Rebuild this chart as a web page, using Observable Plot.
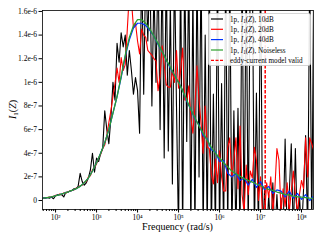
<!DOCTYPE html>
<html><head><meta charset="utf-8">
<script src="https://cdn.jsdelivr.net/npm/d3@7"></script>
<script src="https://cdn.jsdelivr.net/npm/@observablehq/plot@0.6"></script>
<style>body{margin:0;background:#fff} #chart{width:320px;height:240px}</style>
</head><body><div id="chart"></div>
<script>
// log10 of frequency (rad/s) for the noisy series
const noisyLog = [
 1.70,1.75,1.80,1.85,1.90,1.95,2.00,2.05,2.10,2.15,
 2.20,2.25,2.30,2.35,2.40,2.45,2.50,2.55,2.60,2.65,
 2.70,2.75,2.80,2.85,2.90,2.95,3.00,3.05,3.10,3.15,
 3.20,3.25,3.30,3.35,3.40,3.45,3.50,3.55,3.60,3.65,
 3.70,3.75,3.80,3.85,3.90,3.95,4.00,4.05,4.10,4.15,
 4.20,4.25,4.30,4.35,4.40,4.45,4.50,4.55,4.60,4.65,
 4.70,4.75,4.80,4.85,4.90,4.95,5.00,5.05,5.10,5.15,
 5.20,5.25,5.30,5.35,5.40,5.45,5.50,5.55,5.60,5.65,
 5.70,5.75,5.80,5.85,5.90,5.95,6.00,6.05,6.10,6.15,
 6.20,6.25,6.30,6.35,6.40,6.45,6.50,6.55,6.60,6.65,
 6.70,6.75,6.80,6.85,6.90,6.95,7.00,7.05,7.10,7.15,
 7.20,7.25,7.30,7.35,7.40,7.45,7.50,7.55,7.60,7.65,
 7.70,7.75,7.80,7.85,7.90,7.95,8.00,8.05,8.10,8.15,
 8.20,8.25,8.30];
// values in units of 1e-7
const black10dB = [
 0.2,0.2,0.25,0.2,0.3,0.15,0.4,0.5,0.5,0.5,
 0.3,0.7,0.7,0.8,0.85,1.0,1.0,1.2,2.3,1.6,
 1.3,1.5,1.9,2.6,4.0,2.4,3.6,3.3,4.0,4.4,
 7.6,6.0,4.8,7.0,10.0,8.5,13.3,11.7,14.2,13.0,
 14.0,10.6,12.7,11.0,9.0,10.4,9.3,5.7,20,9.0,
 20,13.5,20,8.0,18,10.0,20,6.0,20,3.6,
 20,4.2,17,1.4,20,8.0,-3,20,-3,20,
 5.0,20,-3,18,-3,20,2.0,20,-3,14,
 -3,20,-3,9.0,-3,20,-3,9.9,-3,20,
 -3,20,-3,7.6,-3,7.8,-3,20,-3,20,
 -3,20,20,-3,9.1,-3,20,-3,1.0,-3,
 0.5,-3,1.5,-3,0.5,-3,0.2,-3,5.2,-3,
 0.5,4.8,-3,4.4,-3,0.5,-3,1.0,5.5,-3,
 20,-3,20];
const red20dB = [
 0.2,0.22,0.25,0.3,0.32,0.35,0.45,0.42,0.55,0.5,
 0.65,0.62,0.75,0.8,0.85,0.9,1.05,1.1,1.25,1.3,
 1.55,1.6,2.0,2.1,2.6,2.8,3.1,3.6,3.9,4.4,
 4.7,5.5,6.6,7.6,8.8,9.9,11.2,10.0,12.1,11.0,
 11.5,14.5,17.5,17.0,14.6,15.0,13.5,12.4,14.5,14.0,
 13.8,12.7,12.5,12.3,12.0,11.8,9.3,10.5,13.1,11.5,
 9.8,9.6,9.6,11.0,10.0,12.7,9.5,11.0,12.9,8.5,
 8.5,9.7,7.0,5.7,8.0,11.4,8.5,6.5,4.0,8.0,
 4.5,4.4,2.2,1.4,3.5,1.5,4.2,2.0,0.8,0.8,
 4.5,5.3,2.0,3.5,5.3,1.0,6.3,0.5,-1,3.0,
 0.5,2.5,1.9,4.5,3.4,0.0,2.0,-1,-1.2,1.5,
 0.25,2.0,-1,1.0,4.4,3.4,-1,1.0,-0.5,1.5,
 -1,0.8,2.5,0.5,-1,0.5,1.7,1.0,5.3,2.0,
 5.3,4.8,4.2];
// log10 of frequency for the smooth series
const smoothLog = [
 1.7,1.8,1.9,2.0,2.1,2.2,2.3,2.4,2.5,2.6,
 2.7,2.8,2.9,3.0,3.1,3.2,3.3,3.4,3.5,3.6,
 3.7,3.8,3.9,4.0,4.1,4.2,4.3,4.4,4.5,4.6,
 4.7,4.8,4.9,5.0,5.1,5.2,5.3,5.4,5.5,5.6,
 5.7,5.8,5.9,6.0,6.1,6.2,6.3,6.4,6.5,6.6,
 6.7,6.8,6.9,7.0,7.1,7.2,7.3,7.4,7.5,7.6,
 7.7,7.8,7.9,8.0,8.1,8.2,8.3];
const blue40dB = [
 0.2,0.25,0.3,0.4,0.5,0.6,0.72,0.85,1.0,1.2,
 1.5,1.9,2.5,3.2,4.0,4.9,6.0,7.4,8.8,10.4,
 12.2,13.6,14.6,15.0,15.0,14.8,14.4,13.9,13.2,12.6,
 11.9,11.2,10.6,10.0,9.3,8.4,7.7,6.9,6.4,5.5,
 5.2,4.3,4.1,3.3,3.4,2.3,2.0,2.3,1.7,1.9,
 1.3,1.8,1.1,1.6,0.9,1.2,0.6,0.9,0.8,0.3,
 0.8,0.2,0.6,0.1,0.5,0.0,0.4];
const greenNoiseless = [
 0.2,0.25,0.3,0.4,0.5,0.6,0.72,0.85,1.0,1.2,
 1.5,1.9,2.5,3.2,4.0,4.9,6.0,7.4,8.8,10.5,
 12.3,13.8,14.8,15.3,15.3,15.0,14.5,13.9,13.3,12.6,
 11.9,11.3,10.6,10.0,9.3,8.5,7.7,7.0,6.3,5.7,
 5.1,4.5,4.0,3.6,3.2,2.85,2.5,2.25,2.05,1.85,
 1.7,1.55,1.4,1.25,1.1,0.95,0.85,0.72,0.62,0.52,
 0.45,0.38,0.32,0.28,0.24,0.2,0.17];
const validFreq = 1.3e7;
const xDomain = [48, 1.96e8];
const yDomain = [-0.76, 16.08];
const xTicks = [1e2,1e3,1e4,1e5,1e6,1e7,1e8];
const xTickLabels = ["10²","10³","10⁴","10⁵","10⁶","10⁷","10⁸"];
const yTicks = [0,2,4,6,8,10,12,14,16];
const yTickLabels = ["0","2e-7","4e-7","6e-7","8e-7","1e-6","1.2e-6","1.4e-6","1.6e-6"];
const seriesNames = ["10dB","20dB","40dB","Noiseless"];
const seriesColors = ["#000000","#ff0000","#0033ff","#2ca02c"];
const validLabel = "eddy-current model valid";
const xLabel = "Frequency (rad/s)";

const minorTicks = [1e1].concat(xTicks).flatMap(d => [2,3,4,5,6,7,8,9].map(m => m*d))
  .filter(v => v >= xDomain[0] && v <= xDomain[1]);

const rows = (logs, vals) => logs.map((e,i) => ({f: 10**e, v: vals[i]}));
const FONT = "'Liberation Serif','DejaVu Serif',serif";

const plot = Plot.plot({
  width: 320, height: 240,
  marginLeft: 42, marginRight: 7, marginTop: 10, marginBottom: 31,
  style: {fontFamily: FONT, fontSize: "7.5px", color: "black", background: "white"},
  x: {type: "log", domain: xDomain},
  y: {domain: yDomain},
  marks: [
    Plot.line(rows(noisyLog, black10dB), {x:"f", y:"v", stroke: seriesColors[0], strokeWidth: 1.1, clip: true}),
    Plot.line(rows(noisyLog, red20dB), {x:"f", y:"v", stroke: seriesColors[1], strokeWidth: 1.1, clip: true}),
    Plot.line(rows(smoothLog, blue40dB), {x:"f", y:"v", stroke: seriesColors[2], strokeWidth: 1.2, clip: true}),
    Plot.line(rows(smoothLog, greenNoiseless), {x:"f", y:"v", stroke: seriesColors[3], strokeWidth: 1.3, clip: true}),
    Plot.ruleX([validFreq], {stroke: "#ff0000", strokeWidth: 1.5, strokeDasharray: "3.5,1.5"}),
    Plot.frame({stroke: "black", strokeWidth: 0.8}),
    Plot.axisX({ticks: xTicks, tickFormat: d => xTickLabels[xTicks.indexOf(d)], tickSize: 3.5, tickPadding: 2, label: null}),
    Plot.axisX({ticks: minorTicks, tickFormat: () => "", tickSize: 2, label: null}),
    Plot.axisY({ticks: yTicks, tickFormat: d => yTickLabels[yTicks.indexOf(d)], tickSize: 3.5, tickPadding: 2, label: null})
  ]
});
document.getElementById("chart").appendChild(plot);

const svg = d3.select(plot);
// x label
svg.append("text").attr("x", 177.5).attr("y", 230).attr("text-anchor", "middle")
  .attr("font-family", FONT).attr("font-size", 10).attr("fill", "black").text(xLabel);

function mathLabel(sel, size) {
  sel.append("tspan").attr("font-style", "italic").text("I");
  sel.append("tspan").attr("font-size", size * 0.7).attr("dy", size * 0.2).text("1");
  sel.append("tspan").attr("dy", -size * 0.2).text("(");
  sel.append("tspan").attr("font-style", "italic").text("Z");
  sel.append("tspan").text(")");
}
// y label
const yl = svg.append("text").attr("transform", "translate(16,109.5) rotate(-90)")
  .attr("text-anchor", "middle").attr("font-family", FONT).attr("font-size", 10).attr("fill", "black");
mathLabel(yl, 10);

// legend
const lg = svg.append("g").attr("font-family", FONT).attr("font-size", 7.2).attr("fill", "black")
  .attr("text-anchor", "start");
lg.append("rect").attr("x", 208.5).attr("y", 13.5).attr("width", 102).attr("height", 52).attr("rx", 2)
  .attr("fill", "white").attr("fill-opacity", 0.9).attr("stroke", "#cccccc").attr("stroke-width", 0.8);
const rowY = [19, 29.3, 39.6, 50, 60.3];
seriesNames.forEach((name, i) => {
  lg.append("line").attr("x1", 211).attr("x2", 223).attr("y1", rowY[i]).attr("y2", rowY[i])
    .attr("stroke", seriesColors[i]).attr("stroke-width", 1.2);
  const t = lg.append("text").attr("x", 230).attr("y", rowY[i] + 2.5);
  t.append("tspan").text("1p, ");
  mathLabel(t, 7.2);
  t.append("tspan").text(", " + name);
});
lg.append("line").attr("x1", 211).attr("x2", 223).attr("y1", rowY[4]).attr("y2", rowY[4])
  .attr("stroke", "#ff0000").attr("stroke-width", 1.2).attr("stroke-dasharray", "3,1.5");
lg.append("text").attr("x", 230).attr("y", rowY[4] + 2.5).text(validLabel);
</script></body></html>
